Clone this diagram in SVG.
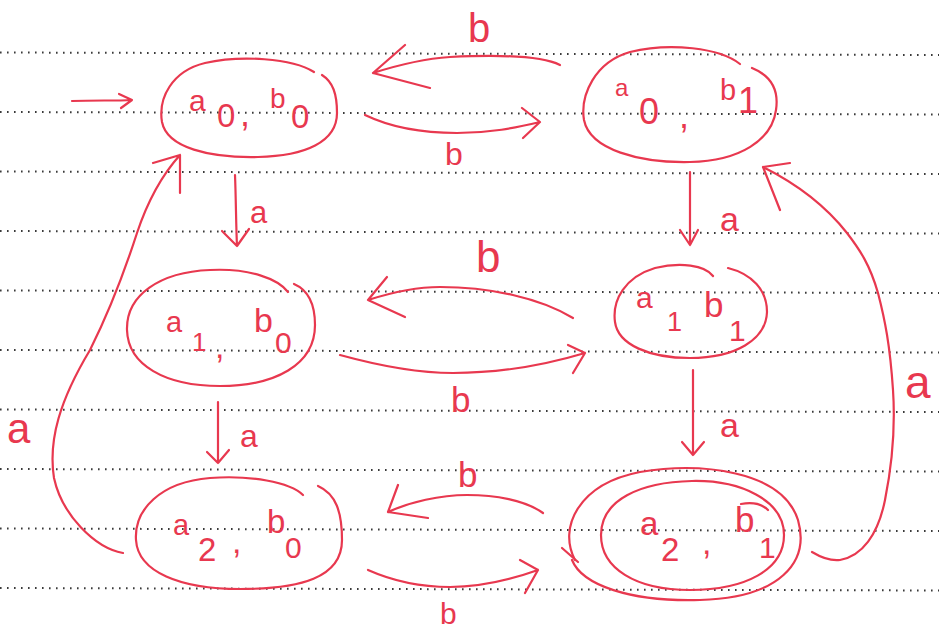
<svg xmlns="http://www.w3.org/2000/svg" width="939" height="631" viewBox="0 0 939 631">
<style>
.rule{stroke:#3a3a3a;stroke-width:2;stroke-dasharray:1.6 5.4;fill:none}
.pen{stroke:#e8384f;stroke-width:2.2;fill:none;stroke-linecap:round;stroke-linejoin:round}
.t{fill:#e8384f;font-family:"Liberation Sans",Arial,sans-serif}
</style>
<rect width="939" height="631" fill="#ffffff"/>
<g id="paper-rules">
<line class="rule" x1="0" y1="52.5" x2="939" y2="55"/>
<line class="rule" x1="0" y1="112" x2="939" y2="114.5"/>
<line class="rule" x1="0" y1="171.5" x2="939" y2="174"/>
<line class="rule" x1="0" y1="231" x2="939" y2="233.5"/>
<line class="rule" x1="0" y1="290.5" x2="939" y2="293"/>
<line class="rule" x1="0" y1="350" x2="939" y2="352.5"/>
<line class="rule" x1="0" y1="409.5" x2="939" y2="412"/>
<line class="rule" x1="0" y1="469" x2="939" y2="471.5"/>
<line class="rule" x1="0" y1="528.5" x2="939" y2="531"/>
<line class="rule" x1="0" y1="588" x2="939" y2="590.5"/>
</g>
<g id="node-a0b0">
<path class="pen" d="M 314,72 C 292,58 240,55 205,63 C 172,71 158,98 162,122 C 167,148 210,158 258,157 C 305,156 337,142 337,113 C 337,94 333,82 322,75"/>
<text class="t"><tspan x="189" y="111" font-size="30">a</tspan><tspan x="217" y="127" font-size="33">0</tspan><tspan x="240" y="126" font-size="36">,</tspan><tspan x="270" y="108" font-size="28">b</tspan><tspan x="291" y="128" font-size="33">0</tspan></text>
</g>
<g id="node-a0b1">
<path class="pen" d="M 740,64 C 720,48 670,42 630,52 C 595,62 580,95 584,120 C 590,150 640,163 690,162 C 740,161 772,140 776,110 C 779,90 772,76 752,68"/>
<text class="t"><tspan x="615" y="96" font-size="24">a</tspan><tspan x="639" y="124" font-size="36">0</tspan><tspan x="679" y="128" font-size="36">,</tspan><tspan x="720" y="100" font-size="29">b</tspan><tspan x="738" y="113" font-size="36">1</tspan></text>
</g>
<g id="node-a1b0">
<path class="pen" d="M 288,292 C 278,279 250,268 210,270 C 160,272 126,295 127,330 C 128,365 165,386 220,386 C 275,386 315,365 315,325 C 315,303 308,290 294,284"/>
<text class="t"><tspan x="166" y="332" font-size="29">a</tspan><tspan x="192" y="351" font-size="26">1</tspan><tspan x="215" y="358" font-size="34">,</tspan><tspan x="254" y="332" font-size="34">b</tspan><tspan x="275" y="353" font-size="30">0</tspan></text>
</g>
<g id="node-a1b1">
<path class="pen" d="M 713,276 C 705,265 680,262 655,268 C 625,277 612,300 615,322 C 618,345 650,358 690,358 C 735,358 766,340 767,312 C 767,290 752,274 728,268"/>
<text class="t"><tspan x="636" y="308" font-size="30">a</tspan><tspan x="667" y="331" font-size="27">1</tspan><tspan x="704" y="317" font-size="35">b</tspan><tspan x="729" y="341" font-size="30">1</tspan></text>
</g>
<g id="node-a2b0">
<path class="pen" d="M 303,495 C 290,482 250,475 210,478 C 160,482 134,510 136,540 C 138,572 180,589 240,589 C 300,589 342,578 342,540 C 342,512 336,494 318,486"/>
<text class="t"><tspan x="173" y="535" font-size="29">a</tspan><tspan x="198" y="561" font-size="33">2</tspan><tspan x="232" y="553" font-size="34">,</tspan><tspan x="267" y="533" font-size="33">b</tspan><tspan x="285" y="558" font-size="30">0</tspan></text>
</g>
<g id="node-a2b1">
<path class="pen" d="M 575,560 C 558,528 578,484 640,472 C 700,462 782,470 798,520 C 810,562 780,598 700,600 C 630,602 582,585 572,560"/>
<path class="pen" d="M 562,548 L 578,562"/>
<path class="pen" d="M 692,481 C 740,480 784,500 784,535 C 784,570 745,590 690,590 C 635,590 601,568 601,535 C 601,500 640,482 692,481 Z"/>
<text class="t"><tspan x="640" y="535" font-size="33">a</tspan><tspan x="661" y="561" font-size="33">2</tspan><tspan x="702" y="554" font-size="34">,</tspan><tspan x="735" y="532" font-size="35">b</tspan><tspan x="759" y="558" font-size="30">1</tspan></text>
<path class="pen" d="M 741,504 C 752,502 762,504 768,510"/>
</g>
<g id="connectors">
<path class="pen" d="M 72,101 C 95,100 115,101 132,100 M 119,94 L 132,100 L 121,108"/>
<path class="pen" d="M 560,65 C 540,55 490,55 450,57 C 420,59 395,66 373,73 M 405,45 L 373,73 L 430,88"/>
<path class="pen" d="M 365,115 C 390,127 420,133 457,133 C 490,133 515,128 540,122 M 522,108 L 540,122 L 523,138"/>
<path class="pen" d="M 235,175 C 236,200 236,225 237,246 M 222,231 L 237,246 L 249,229"/>
<path class="pen" d="M 690,172 C 690,195 690,222 690,245 M 680,230 L 690,245 L 698,230"/>
<path class="pen" d="M 573,318 C 540,298 490,287 440,287 C 415,287 390,293 368,300 M 387,277 L 368,300 L 405,317"/>
<path class="pen" d="M 340,355 C 380,366 420,373 453,373 C 500,373 545,365 585,353 M 568,345 L 585,353 L 573,373"/>
<path class="pen" d="M 218,402 C 218,425 218,445 218,463 M 207,452 L 218,463 L 229,450"/>
<path class="pen" d="M 693,370 C 693,400 693,430 693,455 M 682,442 L 693,455 L 704,442"/>
<path class="pen" d="M 543,513 C 525,500 495,495 467,495 C 440,495 410,502 388,512 M 398,485 L 388,512 L 428,518"/>
<path class="pen" d="M 368,570 C 395,582 425,587 450,587 C 480,587 510,580 538,570 M 520,560 L 538,570 L 525,593"/>
<path class="pen" d="M 123,553 C 95,548 62,515 54,478 C 48,440 60,400 90,350 C 110,310 125,270 137,233 C 148,200 162,175 180,155 M 153,163 L 180,155 L 180,193"/>
<path class="pen" d="M 812,552 C 822,558 832,561 840,560 C 862,556 878,535 885,500 C 893,460 895,420 893,390 C 890,345 885,320 878,293 C 870,265 860,250 847,233 C 825,205 795,183 763,167 M 790,163 L 763,167 L 780,210"/>
<text class="t" x="468" y="42" font-size="40">b</text>
<text class="t" x="445" y="165" font-size="32">b</text>
<text class="t" x="250" y="223" font-size="31">a</text>
<text class="t" x="720" y="231" font-size="34">a</text>
<text class="t" x="476" y="272" font-size="44">b</text>
<text class="t" x="451" y="412" font-size="35">b</text>
<text class="t" x="240" y="447" font-size="32">a</text>
<text class="t" x="720" y="437" font-size="34">a</text>
<text class="t" x="458" y="487" font-size="35">b</text>
<text class="t" x="440" y="624" font-size="30">b</text>
<text class="t" x="7" y="443" font-size="42">a</text>
<text class="t" x="905" y="398" font-size="46">a</text>
</g>
</svg>
